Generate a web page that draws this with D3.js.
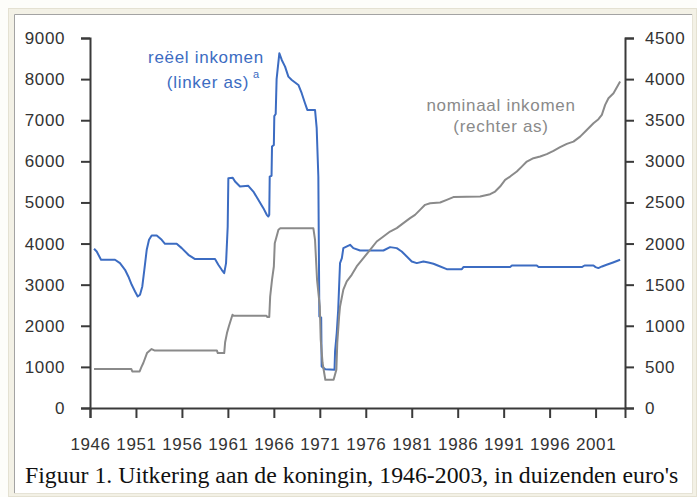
<!DOCTYPE html>
<html>
<head>
<meta charset="utf-8">
<script src="https://cdn.jsdelivr.net/npm/d3@7"></script>
<style>
  body { margin: 0; background: #fff; }
  svg { display: block; }
</style>
</head>
<body>
<svg id="chart"></svg>
<script>
// ---------------------------//
//            DATA            //
// ---------------------------//

// reeel inkomen (left axis), [year, value]
var reeelData = [[1946.44,3872],[1946.73,3807],[1947.2,3605],[1948.72,3605],[1949.26,3524],[1949.81,3362],[1950.17,3199],[1950.54,2997],[1950.9,2835],[1951.19,2713],[1951.44,2754],[1951.69,2956],[1951.91,3362],[1952.17,3848],[1952.42,4091],[1952.71,4195],[1953.26,4195],[1953.8,4091],[1954.16,3994],[1955.43,3994],[1955.98,3889],[1956.7,3726],[1957.43,3622],[1959.6,3622],[1959.96,3483],[1960.33,3362],[1960.6,3281],[1960.8,3524],[1960.98,4414],[1961.05,5590],[1961.53,5598],[1961.78,5508],[1962.32,5386],[1963.22,5404],[1963.77,5265],[1964.31,5063],[1964.86,4861],[1965.23,4699],[1965.4,4657],[1965.5,4700],[1965.55,5630],[1965.75,5650],[1965.8,6360],[1966.0,6400],[1966.05,7100],[1966.2,7150],[1966.3,8000],[1966.6,8630],[1966.86,8466],[1967.22,8303],[1967.58,8060],[1967.95,7980],[1968.67,7858],[1969.03,7657],[1969.39,7414],[1969.64,7251],[1970.48,7251],[1970.66,6806],[1970.84,5630],[1970.95,2228],[1971.15,2200],[1971.2,1013],[1971.6,940],[1972.6,931],[1972.66,1376],[1972.84,1823],[1973.0,2390],[1973.2,3525],[1973.4,3646],[1973.56,3889],[1974.29,3969],[1974.65,3889],[1975.38,3831],[1977.92,3831],[1978.64,3913],[1979.37,3889],[1979.91,3807],[1980.46,3685],[1981.0,3563],[1981.55,3524],[1982.27,3563],[1982.81,3540],[1983.36,3508],[1983.9,3459],[1984.81,3378],[1986.45,3378],[1986.62,3427],[1991.7,3427],[1991.9,3466],[1994.6,3466],[1994.8,3427],[1999.5,3427],[1999.8,3466],[2000.77,3466],[2001.0,3427],[2001.3,3403],[2001.7,3443],[2002.2,3483],[2002.9,3540],[2003.67,3605]];

// nominaal inkomen (right axis), [year, value]
var nominaalData = [[1946.44,474],[1950.5,474],[1950.6,445],[1951.4,445],[1951.6,500],[1951.8,547],[1952.2,668],[1952.7,717],[1953.0,700],[1959.8,700],[1959.9,668],[1960.6,668],[1960.7,800],[1960.9,911],[1961.1,992],[1961.5,1134],[1961.6,1122],[1965.2,1122],[1965.3,1106],[1965.5,1106],[1965.6,1356],[1965.8,1559],[1966.0,1721],[1966.1,2005],[1966.5,2167],[1966.7,2185],[1970.3,2185],[1970.48,2045],[1970.7,1559],[1971.0,1235],[1971.1,830],[1971.3,547],[1971.6,344],[1972.5,344],[1972.8,465],[1972.9,790],[1973.1,1113],[1973.2,1235],[1973.56,1440],[1973.93,1539],[1974.47,1620],[1975.01,1721],[1975.74,1823],[1976.47,1924],[1977.19,2025],[1977.92,2086],[1978.64,2146],[1979.37,2188],[1980.09,2248],[1980.82,2309],[1981.36,2349],[1981.9,2410],[1982.45,2471],[1983.0,2491],[1984.09,2499],[1984.81,2532],[1985.53,2565],[1988.44,2572],[1989.53,2600],[1990.07,2633],[1990.61,2693],[1991.16,2775],[1991.7,2815],[1992.43,2876],[1992.97,2936],[1993.52,2997],[1994.24,3038],[1994.97,3058],[1995.69,3087],[1996.42,3127],[1997.14,3172],[1997.87,3212],[1998.59,3240],[1999.32,3301],[2000.04,3382],[2000.77,3464],[2001.31,3512],[2001.68,3565],[2002.04,3686],[2002.4,3768],[2002.95,3828],[2003.67,3970]];

var xTicks = [1946, 1951, 1956, 1961, 1966, 1971, 1976, 1981, 1986, 1991, 1996, 2001];
var leftTicks = [0, 1000, 2000, 3000, 4000, 5000, 6000, 7000, 8000, 9000];
var rightTicks = [0, 500, 1000, 1500, 2000, 2500, 3000, 3500, 4000, 4500];

var captionText = "Figuur 1. Uitkering aan de koningin, 1946-2003, in duizenden euro's";

// ---------------------------//
//         DIMENSIONS         //
// ---------------------------//

var width = 697, height = 497;
var plot = { left: 90, right: 625, top: 38, bottom: 408 };

var blue = "#3c6cc2";
var grey = "#8a8a8a";
var axisColor = "#3a3a3a";
var sans = "'Liberation Sans', Arial, sans-serif";

var svg = d3.select("#chart")
    .attr("width", width)
    .attr("height", height);

// ---------------------------//
//           FRAME            //
// ---------------------------//

svg.append("rect").attr("width", width).attr("height", height).attr("fill", "#fdfdfa");
svg.append("rect")
    .attr("x", 8.5).attr("y", 8.5).attr("width", 688).attr("height", 488)
    .attr("fill", "#f3f1e6").attr("stroke", "#e4e1d2");
svg.append("rect")
    .attr("x", 14).attr("y", 14).attr("width", 678).attr("height", 479)
    .attr("fill", "#fff");
svg.append("path")
    .attr("d", "M14.5,493 V14.5 H692")
    .attr("fill", "none").attr("stroke", "#a3a3a3").attr("stroke-width", 1);
svg.append("path")
    .attr("d", "M14,493.5 H692.5 V14")
    .attr("fill", "none").attr("stroke", "#e6e3d6").attr("stroke-width", 1);

// ---------------------------//
//       AXIS  AND SCALE      //
// ---------------------------//

var x = d3.scaleLinear().domain([1946, 2004.2]).range([plot.left, plot.right]);
var yLeft = d3.scaleLinear().domain([0, 9000]).range([plot.bottom, plot.top]);
var yRight = d3.scaleLinear().domain([0, 4500]).range([plot.bottom, plot.top]);

// ---------------------------//
//           LINES            //
// ---------------------------//

var lineLeft = d3.line().x(d => x(d[0])).y(d => yLeft(d[1]));
var lineRight = d3.line().x(d => x(d[0])).y(d => yRight(d[1]));

svg.append("path")
    .datum(reeelData)
    .attr("d", lineLeft)
    .attr("fill", "none")
    .attr("stroke", blue)
    .attr("stroke-width", 2)
    .attr("stroke-linejoin", "round");

svg.append("path")
    .datum(nominaalData)
    .attr("d", lineRight)
    .attr("fill", "none")
    .attr("stroke", grey)
    .attr("stroke-width", 2)
    .attr("stroke-linejoin", "round");

// ---------------------------//
//            AXES            //
// ---------------------------//

function styleAxis(g, size) {
    g.selectAll("path, line").attr("stroke", axisColor).attr("stroke-width", 2);
    g.selectAll("text")
        .attr("fill", "#333")
        .style("font-family", sans)
        .style("font-size", size)
        .style("letter-spacing", "0.6px");
}

svg.append("g")
    .attr("transform", "translate(" + plot.left + ",0)")
    .call(d3.axisLeft(yLeft).tickValues(leftTicks).tickSize(9).tickPadding(16).tickFormat(d3.format("d")))
    .call(styleAxis, "17px");

svg.append("g")
    .attr("transform", "translate(" + plot.right + ",0)")
    .call(d3.axisRight(yRight).tickValues(rightTicks).tickSize(9).tickPadding(11).tickFormat(d3.format("d")))
    .call(styleAxis, "17px");

svg.append("g")
    .attr("transform", "translate(0," + plot.bottom + ")")
    .call(d3.axisBottom(x).tickValues(xTicks).tickSize(10).tickPadding(20).tickFormat(d3.format("d")))
    .call(styleAxis, "17px");

// ---------------------------//
//        ANNOTATIONS         //
// ---------------------------//

function annotate(tx, ty, str, color) {
    svg.append("text")
        .attr("x", tx).attr("y", ty)
        .attr("text-anchor", "middle")
        .attr("fill", color)
        .style("font-family", sans).style("font-size", "17px")
        .style("letter-spacing", "0.7px")
        .text(str);
}

annotate(206, 63, "reëel inkomen", blue);
annotate(208, 88, "(linker as)", blue);
annotate(501, 111, "nominaal inkomen", grey);
annotate(501, 132, "(rechter as)", grey);

// superscript a
svg.append("text")
    .attr("x", 253).attr("y", 78)
    .attr("fill", blue)
    .style("font-family", sans).style("font-size", "11px")
    .text("a");

// ---------------------------//
//           CAPTION          //
// ---------------------------//

svg.append("text")
    .attr("x", 25).attr("y", 483)
    .attr("fill", "#111")
    .style("font-family", "'Liberation Serif', 'Times New Roman', serif")
    .style("font-size", "23.8px")
    .text(captionText);
</script>
</body>
</html>
